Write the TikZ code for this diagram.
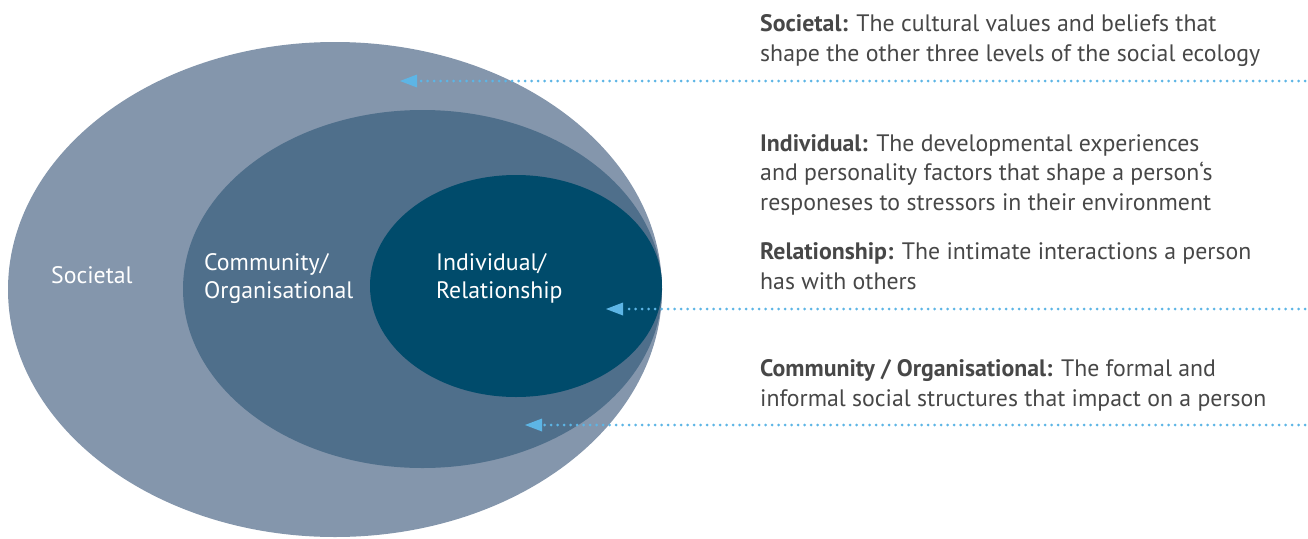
\documentclass[tikz,border=0pt]{standalone}
\usepackage{fontspec}
\setmainfont{PT Sans}
\usetikzlibrary{arrows.meta}
\definecolor{outerblue}{HTML}{8496AC}
\definecolor{midblue}{HTML}{4F6F8B}
\definecolor{innerblue}{HTML}{004B6B}
\definecolor{pointerblue}{HTML}{5DB5E5}
\definecolor{textgrey}{HTML}{474747}
\tikzset{
  level/.style={white,font=\fontsize{23.8}{28}\selectfont,align=left,anchor=base west,inner sep=0pt},
  note/.style={textgrey,font=\fontsize{23.8}{29.5}\selectfont,align=left,anchor=base west,inner sep=0pt},
  pointer/.style={pointerblue,line width=3pt,line cap=round,dash pattern=on 0pt off 6.5pt,
    -{Triangle[length=17pt,width=13pt,line width=0pt]}}
}
\begin{document}
\begin{tikzpicture}[x=1pt,y=-1pt]
\useasboundingbox (0,0) rectangle (1308,538);
% the three levels
\fill[outerblue] (335,289.5) ellipse [x radius=327,y radius=247.5];
\fill[midblue] (422.5,289) ellipse [x radius=239.5,y radius=179];
\fill[innerblue] (516,286) ellipse [x radius=146,y radius=111];
\node[level] (societal) at (51,283) {Societal};
\node[level] (community) at (204,298) {Community/\\Organisational};
\node[level] (individual) at (436,298) {Individual/\\Relationship};
% notes
\node[note] (societal note) at (760,61) {\textbf{Societal:} The cultural values and beliefs that\\shape the other three levels of the social ecology};
\node[note] (individual note) at (760,210) {\textbf{Individual:} The developmental experiences\\and personality factors that shape a person‘s\\responeses to stressors in their environment};
\node[note] (relationship note) at (760,289) {\textbf{Relationship:} The intimate interactions a person\\has with others};
\node[note] (community note) at (760,406) {\textbf{Community / Organisational:} The formal and\\informal social structures that impact on a person};
% pointers
\coordinate (societal end) at (1305,81);
\coordinate (societal tip) at (400,81);
\coordinate (individual end) at (1305,309);
\coordinate (individual tip) at (606,309);
\coordinate (community end) at (1305,425);
\coordinate (community tip) at (525,425);
\draw[pointer] (societal end) -- (societal tip);
\draw[pointer] (individual end) -- (individual tip);
\draw[pointer] (community end) -- (community tip);
\end{tikzpicture}
\end{document}
